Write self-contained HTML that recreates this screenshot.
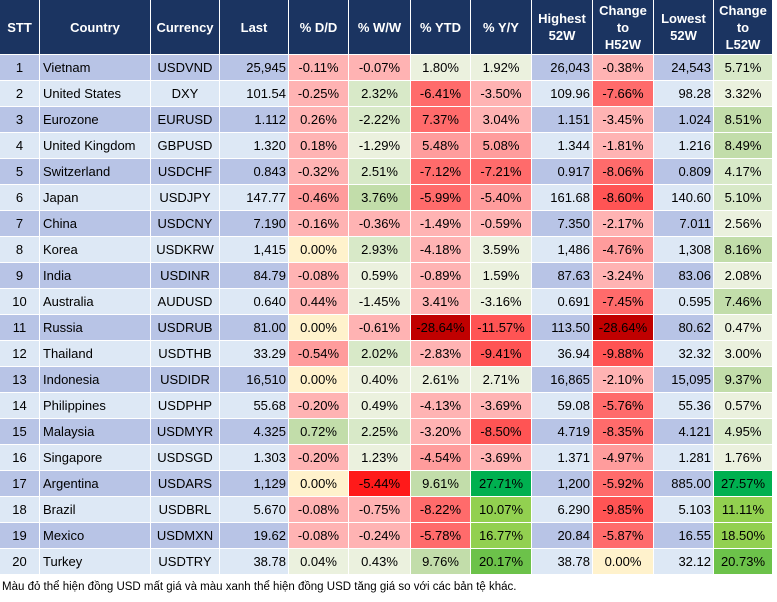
<!DOCTYPE html>
<html><head><meta charset="utf-8">
<style>
body{margin:0;width:777px;height:602px;background:#fff;overflow:hidden;font-family:"Liberation Sans",Arial,sans-serif;}
#tbl{position:absolute;left:0;top:0;width:777px;height:580px;}
.c{position:absolute;box-sizing:border-box;font-size:13px;color:#000;line-height:26px;white-space:nowrap;overflow:hidden;}
.h{position:absolute;box-sizing:border-box;background:#1b3461;color:#fff;font-weight:bold;font-size:13px;display:flex;align-items:center;justify-content:center;text-align:center;line-height:17px;}
#note{position:absolute;left:2px;top:581px;font-size:11.5px;color:#000;white-space:nowrap;}
</style></head><body>
<div id="tbl"></div>
<div id="note">Màu đỏ thể hiện đồng USD mất giá và màu xanh thể hiện đồng USD tăng giá so với các bản tệ khác.</div>
<script>
const headers=["STT","Country","Currency","Last","% D/D","% W/W","% YTD","% Y/Y","Highest<br>52W","Change<br>to<br>H52W","Lowest<br>52W","Change<br>to<br>L52W"];
const countries=["Vietnam","United States","Eurozone","United Kingdom","Switzerland","Japan","China","Korea","India","Australia","Russia","Thailand","Indonesia","Philippines","Malaysia","Singapore","Argentina","Brazil","Mexico","Turkey"];
const currencies=["USDVND","DXY","EURUSD","GBPUSD","USDCHF","USDJPY","USDCNY","USDKRW","USDINR","AUDUSD","USDRUB","USDTHB","USDIDR","USDPHP","USDMYR","USDSGD","USDARS","USDBRL","USDMXN","USDTRY"];
const lastVals=["25,945","101.54","1.112","1.320","0.843","147.77","7.190","1,415","84.79","0.640","81.00","33.29","16,510","55.68","4.325","1.303","1,129","5.670","19.62","38.78"];
const dd=[-0.11,-0.25,0.26,0.18,-0.32,-0.46,-0.16,0.00,-0.08,0.44,0.00,-0.54,0.00,-0.20,0.72,-0.20,0.00,-0.08,-0.08,0.04];
const ww=[-0.07,2.32,-2.22,-1.29,2.51,3.76,-0.36,2.93,0.59,-1.45,-0.61,2.02,0.40,0.49,2.25,1.23,-5.44,-0.75,-0.24,0.43];
const ytd=[1.80,-6.41,7.37,5.48,-7.12,-5.99,-1.49,-4.18,-0.89,3.41,-28.64,-2.83,2.61,-4.13,-3.20,-4.54,9.61,-8.22,-5.78,9.76];
const yy=[1.92,-3.50,3.04,5.08,-7.21,-5.40,-0.59,3.59,1.59,-3.16,-11.57,-9.41,2.71,-3.69,-8.50,-3.69,27.71,10.07,16.77,20.17];
const high52=["26,043","109.96","1.151","1.344","0.917","161.68","7.350","1,486","87.63","0.691","113.50","36.94","16,865","59.08","4.719","1.371","1,200","6.290","20.84","38.78"];
const toHigh=[-0.38,-7.66,-3.45,-1.81,-8.06,-8.60,-2.17,-4.76,-3.24,-7.45,-28.64,-9.88,-2.10,-5.76,-8.35,-4.97,-5.92,-9.85,-5.87,0.00];
const low52=["24,543","98.28","1.024","1.216","0.809","140.60","7.011","1,308","83.06","0.595","80.62","32.32","15,095","55.36","4.121","1.281","885.00","5.103","16.55","32.12"];
const toLow=[5.71,3.32,8.51,8.49,4.17,5.10,2.56,8.16,2.08,7.46,0.47,3.00,9.37,0.57,4.95,1.76,27.57,11.11,18.50,20.73];

const colX=[0,40,151,220,289,349,411,471,532,593,654,714,773];
const headerH=55,rowH=26;
const inverted=["EURUSD","GBPUSD","AUDUSD"];
const tbl=document.getElementById('tbl');
function color(v,sn,sp,inv){
  if(v===0) return '#fff2cc';
  let e=(inv?-v:v);
  if(e<0){e=-e*sn;
    if(e<4.5) return '#ffb3b3';
    if(e<5.5) return '#ff9c9c';
    if(e<8.5) return '#ff6b6b';
    if(e<13) return '#ff5454';
    if(e<20) return '#ff1a1a';
    return '#c00000';}
  e=e*sp;
  if(e<4) return '#ebf1de';
  if(e<6) return '#d8e9c8';
  if(e<10) return '#c2ddaa';
  if(e<19) return '#92d050';
  if(e<25) return '#6cc24a';
  return '#00b050';
}
headers.forEach((h,i)=>{
  const d=document.createElement('div');d.className='h';
  
  
  d.style.left=colX[i]+'px';d.style.top='0px';d.style.width=(colX[i+1]-colX[i]-1)+'px';d.style.height=(headerH-1)+'px';
  d.innerHTML=h;tbl.appendChild(d);
});
const pctCols={4:[dd,10,10],5:[ww,3,2],6:[ytd,1,1],7:[yy,1,1],9:[toHigh,1,1],11:[toLow,1,1]};
const colNames=["stt","country","currency","last","dd","ww","ytd","yy","high52","to-high","low52","to-low"];
countries.forEach((c,r)=>{
  const odd=r%2===0;
  const base=odd?'#b8c4e6':'#dde8f5';
  const inv=inverted.includes(currencies[r]);
  for(let i=0;i<12;i++){
    const d=document.createElement('div');d.className='c';
    
    
    d.style.left=colX[i]+'px';d.style.top=(headerH+r*rowH)+'px';
    d.style.width=(colX[i+1]-colX[i]-1)+'px';d.style.height=(rowH-1)+'px';
    let txt='',align='center',bg=base;
    if(i===0)txt=r+1;
    else if(i===1){txt=c;align='left';d.style.paddingLeft='3px';}
    else if(i===2)txt=currencies[r];
    else if(i===3){txt=lastVals[r];align='right';}
    else if(i===8){txt=high52[r];align='right';}
    else if(i===10){txt=low52[r];align='right';}
    else{const [arr,sn,sp]=pctCols[i];const v=arr[r];txt=v.toFixed(2)+'%';
      bg=color(v,sn,sp,(i===9||i===11)?false:inv);}
    if(align==='right')d.style.paddingRight='2px';
    d.style.textAlign=align;d.style.background=bg;d.textContent=txt;
    tbl.appendChild(d);
  }
});
</script>
</body></html>
